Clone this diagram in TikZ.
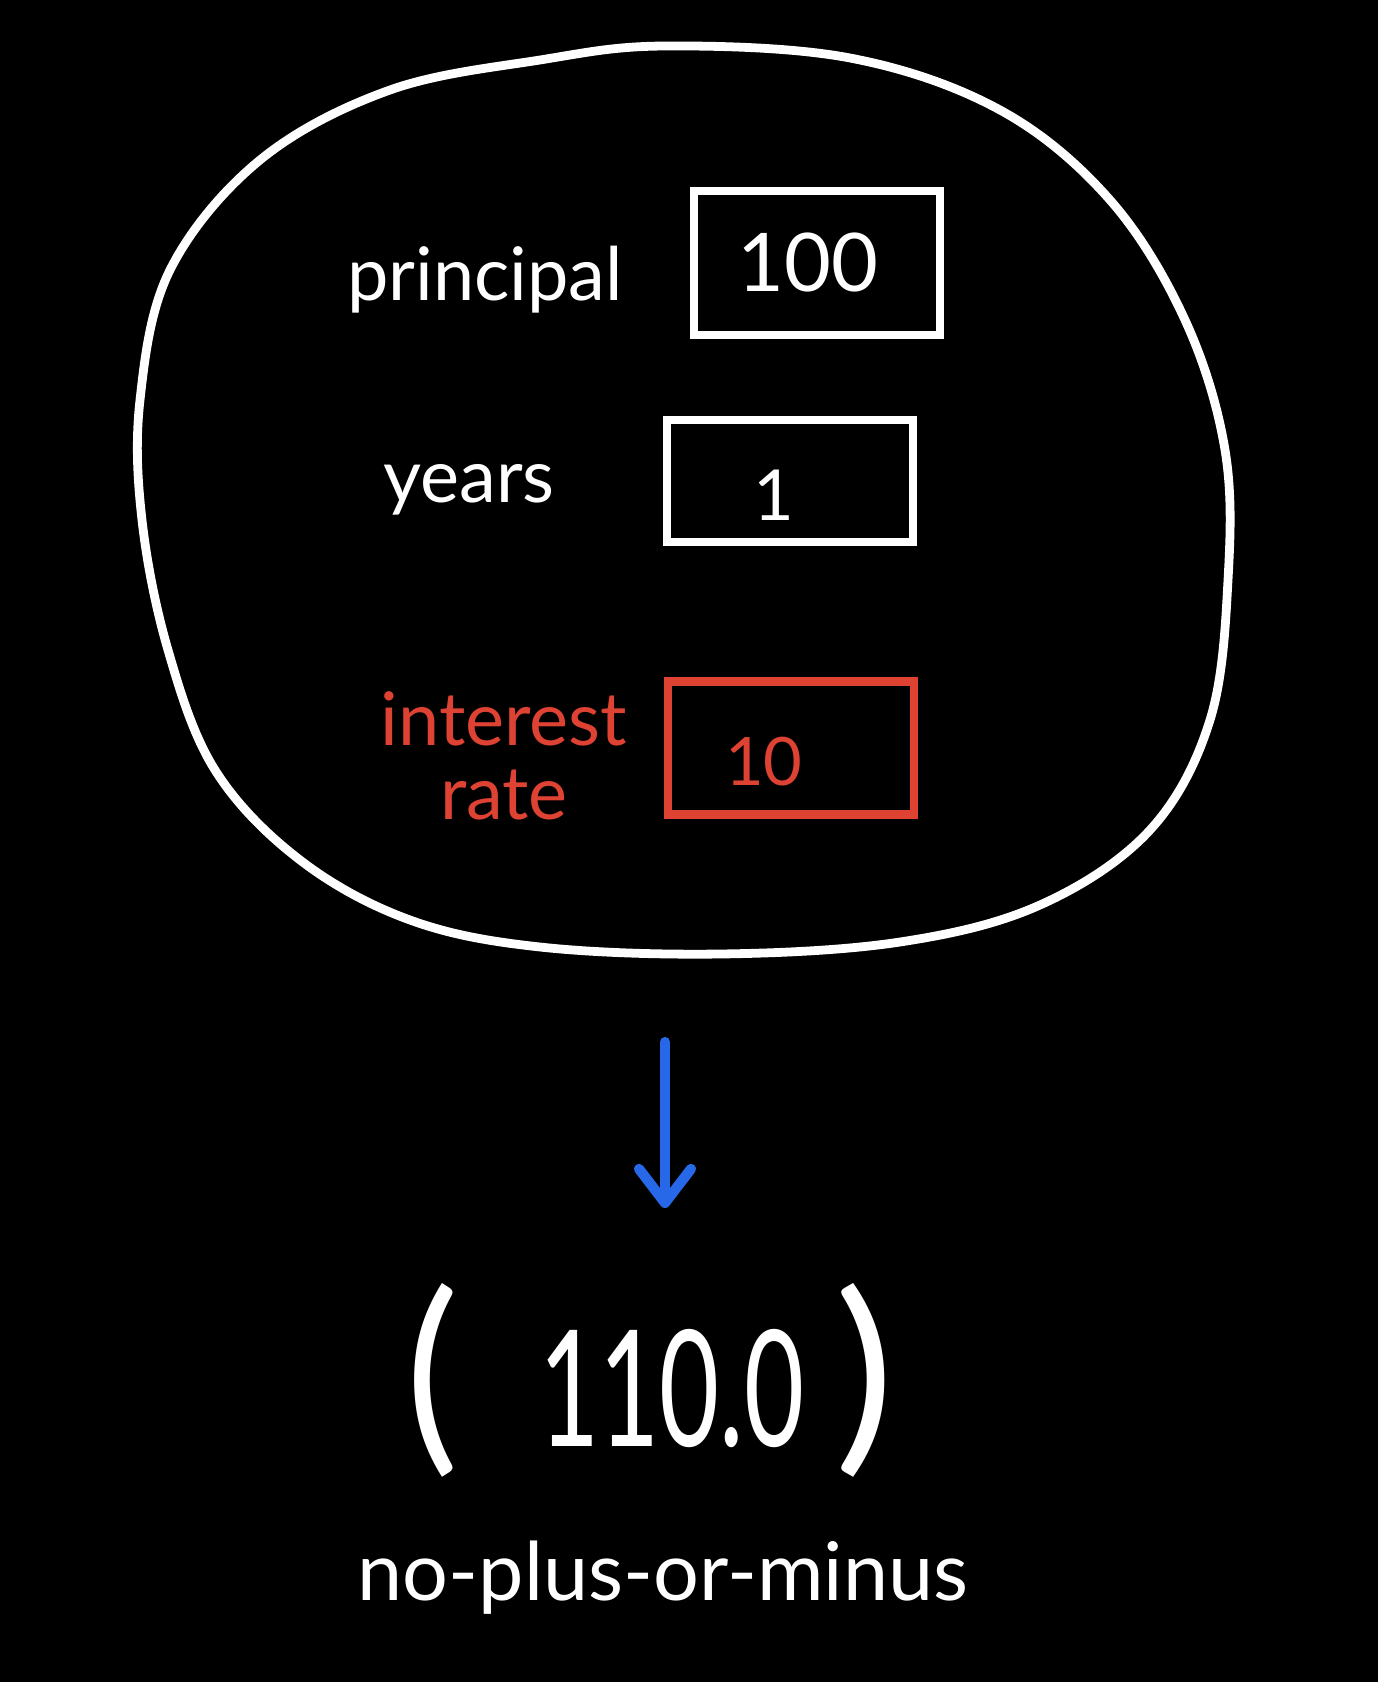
\documentclass[tikz,border=0pt]{standalone}
\usepackage{fontspec}
\setmainfont{Lato}
\usetikzlibrary{positioning,arrows.meta}
\definecolor{inkRed}{RGB}{221,66,50}
\definecolor{inkBlue}{RGB}{38,104,232}
\def\inkW{2.5pt}
\tikzset
{
  ValueBox/.style=
  {
    draw=white,
    line width=\inkW,
    text=white,
    minimum width=2.46cm,
    font=\fontsize{20}{20}\selectfont,
  },
  Label/.style=
  {
    text=white,
    align=center,
    font=\fontsize{21}{21}\selectfont,
  },
  Arrow/.style=
  {
    line width=2.9pt,
    line cap=round,
    -{Straight Barb[length=3.4mm,width=5.2mm,round]},
  }
}
\newcommand{\tallParen}[2]{\scalebox{#1}[1.3]{#2}}
\begin{document}
\begin{tikzpicture}
[
  x=0.01cm, y=-0.01cm, % pixel grid of the sketch
  every node/.style={inner sep=0pt},
]
\fill [black] (0,0) rectangle (1378,1682);

% the surrounding blob
\draw [white, line width=\inkW]
  plot [smooth cycle, tension=0.6] coordinates
  {
    (665,46) (850,58) (1000,110) (1110,200) (1185,320) (1225,450)
    (1228,580) (1210,720) (1150,830) (1040,905) (900,942) (720,954)
    (540,947) (410,920) (300,860) (215,770) (168,650) (142,520)
    (140,400) (170,270) (260,160) (390,90) (540,60)
  };

% inputs
\node (principalBox) [ValueBox, minimum height=1.44cm, font=\fontsize{23}{23}\selectfont] at (817,263) {\hspace*{-0.18cm}100};
\node (yearsBox) [ValueBox, minimum height=1.22cm, text height=0.78cm, text depth=0pt] at (790,481) {\hspace*{-0.32cm}1};
\node (rateBox) [ValueBox, draw=inkRed, text=inkRed, minimum height=1.33cm, text height=0.75cm, text depth=0pt, font=\fontsize{19}{19}\selectfont] at (791,748) {\hspace*{-0.54cm}10};

\node (principalLabel) [Label] at (485,280) {principal};
\node (yearsLabel) [Label] at (469,490) {years};
\node (rateLabel) [Label, text=inkRed] at (504,756) {interest\\rate};

% output
\node (result) [text=white, font=\fontsize{46}{46}\selectfont] at (650,1380)
  {\tallParen{1.25}{(}\hspace{0.8cm}\scalebox{0.64}[1]{110.0}\hspace{0.3cm}\tallParen{1.4}{)}};
\node (resultNote) [Label, font=\fontsize{23}{23}\selectfont] at (663,1578) {no-plus-or-minus};

\coordinate (arrowTop) at (665,1042);
\coordinate (arrowTip) at (665,1208);
\draw [Arrow, inkBlue] (arrowTop) -- (arrowTip);
\end{tikzpicture}
\end{document}
